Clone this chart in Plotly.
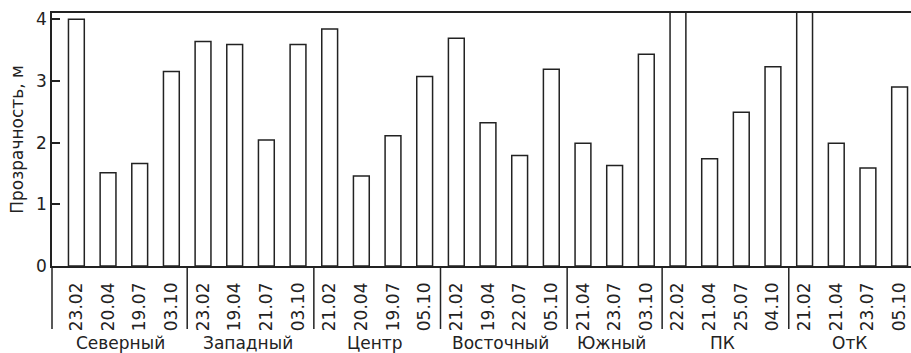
import plotly.graph_objects as go

# Участки и даты съёмки
groups = ["Северный", "Западный", "Центр", "Восточный", "Южный", "ПК", "ОтК"]
dates = [
    ["23.02", "20.04", "19.07", "03.10"],
    ["23.02", "19.04", "21.07", "03.10"],
    ["21.02", "20.04", "19.07", "05.10"],
    ["21.02", "19.04", "22.07", "05.10"],
    ["21.04", "23.07", "03.10"],
    ["22.02", "21.04", "25.07", "04.10"],
    ["21.02", "21.04", "23.07", "05.10"],
]
# Прозрачность, м (февральские значения ПК и ОтК выходят за шкалу)
values = [
    [4.00, 1.51, 1.66, 3.15],
    [3.64, 3.59, 2.04, 3.59],
    [3.84, 1.46, 2.11, 3.07],
    [3.69, 2.32, 1.79, 3.19],
    [1.99, 1.63, 3.43],
    [4.50, 1.74, 2.49, 3.23],
    [4.50, 1.99, 1.59, 2.90],
]
y_ticks = [0, 1, 2, 3, 4]

FONT = "DejaVu Sans"
FS = 17
INK = "#222222"

xs, ys, labels = [], [], []
group_spans = []
pos = 0
for g, ds, vs in zip(groups, dates, values):
    start = pos
    for d, v in zip(ds, vs):
        xs.append(pos)
        ys.append(v)
        labels.append(d)
        pos += 1
    group_spans.append((start, pos - 1))

fig = go.Figure(
    go.Bar(
        x=xs,
        y=ys,
        width=0.5,
        marker=dict(color="white", line=dict(color=INK, width=1.5)),
        hoverinfo="x+y",
    )
)

shapes = []
annotations = []
label_y = -0.304
divider_y = -0.249
for i, ((s, e), g) in enumerate(zip(group_spans, groups)):
    annotations.append(
        dict(
            x=(s + e) / 2, y=label_y, xref="x", yref="paper",
            text=g, showarrow=False, xanchor="center", yanchor="middle",
            xshift=-3, font=dict(family=FONT, size=FS, color=INK),
        )
    )
    if i > 0:
        shapes.append(
            dict(type="line", xref="x", yref="paper", x0=s - 0.5, x1=s - 0.5,
                 y0=0, y1=divider_y, line=dict(color=INK, width=1.5))
        )
# продолжение оси Y вниз под подписями
shapes.append(
    dict(type="line", xref="paper", yref="paper", x0=0, x1=0,
         y0=0, y1=divider_y, line=dict(color=INK, width=1.5))
)

fig.update_layout(
    width=911,
    height=353,
    margin=dict(l=52, r=0, t=13, b=87),
    paper_bgcolor="white",
    plot_bgcolor="white",
    showlegend=False,
    font=dict(family=FONT, size=FS, color=INK),
    shapes=shapes,
    annotations=annotations,
    xaxis=dict(
        range=[-0.77, 26.36],
        tickmode="array",
        tickvals=xs,
        ticktext=labels,
        tickangle=-90,
        ticks="",
        showline=True,
        mirror=True,
        linecolor=INK,
        linewidth=1.5,
        showgrid=False,
        zeroline=False,
        tickfont=dict(family=FONT, size=FS, color=INK),
        ticklabelstandoff=8,
    ),
    yaxis=dict(
        range=[0, 4.1],
        tickmode="array",
        tickvals=y_ticks,
        ticks="inside",
        ticklen=8,
        tickwidth=1.5,
        tickcolor=INK,
        showline=True,
        linecolor=INK,
        linewidth=1.5,
        showgrid=False,
        zeroline=False,
        tickfont=dict(family=FONT, size=FS, color=INK),
        title=dict(text="Прозрачность, м", font=dict(family=FONT, size=FS, color=INK), standoff=8),
    ),
)

fig.write_html("out.html")
